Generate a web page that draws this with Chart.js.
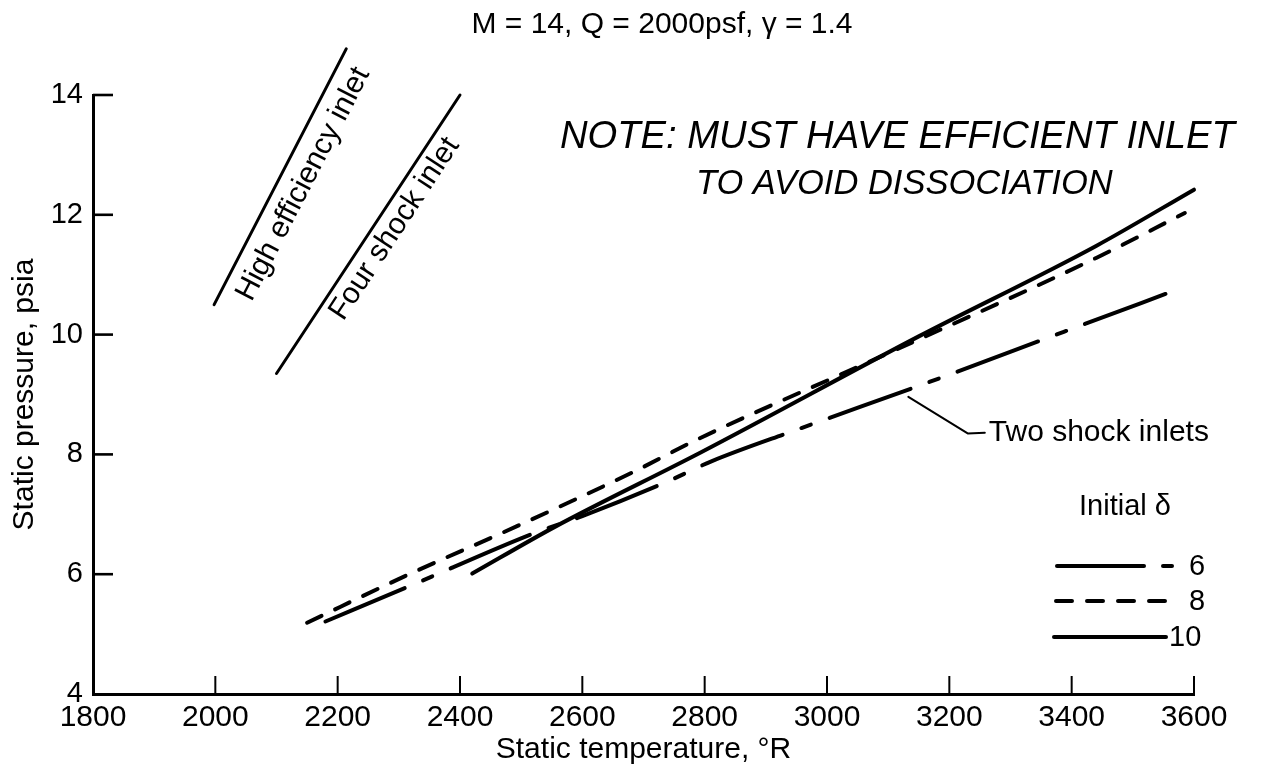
<!DOCTYPE html>
<html>
<head>
<meta charset="utf-8">
<script src="https://cdn.jsdelivr.net/npm/chart.js@4.4.1/dist/chart.umd.min.js"></script>
<style>
  html, body { margin: 0; padding: 0; background: #ffffff; }
  #wrap { width: 1264px; height: 780px; position: relative; }
</style>
</head>
<body>
<div id="wrap"><canvas id="chart"></canvas></div>
<script>
// ---------- data ----------
const xTicks = [1800, 2000, 2200, 2400, 2600, 2800, 3000, 3200, 3400, 3600];
const yTicks = [4, 6, 8, 10, 12, 14];

// Initial delta = 6 (long dash - short dash)
const delta6T = [2180, 2315, 2525, 2600, 2740, 2810, 2950, 3165, 3375, 3580];
const delta6P = [5.21, 5.79, 6.70, 6.97, 7.55, 7.88, 8.41, 9.20, 10.00, 10.78];
// Initial delta = 8 (dashed)
const delta8T = [2150, 2315, 2495, 2680, 2790, 3085, 3440, 3585];
const delta8P = [5.19, 5.99, 6.81, 7.69, 8.26, 9.62, 11.28, 12.03];
// Initial delta = 10 (solid)
const delta10T = [2420, 2555, 2795, 3150, 3440, 3600];
const delta10P = [6.01, 6.79, 8.04, 9.97, 11.48, 12.42];

// annotation reference lines
const highEffT = [1998, 2214];
const highEffP = [10.5, 14.77];
const fourShockT = [2100, 2400];
const fourShockP = [9.35, 14.0];
const leaderT = [3133, 3230, 3258];
const leaderP = [8.96, 8.35, 8.36];

const deltaLabels = ['6', '8', '10'];
const titleText = 'M = 14, Q = 2000psf, \u03B3 = 1.4';
const xTitle = 'Static temperature, \u00B0R';
const yTitle = 'Static pressure, psia';
const noteLines = ['NOTE: MUST HAVE EFFICIENT INLET', 'TO AVOID DISSOCIATION'];
const highEffLabel = 'High efficiency inlet';
const fourShockLabel = 'Four shock inlet';
const twoShockLabel = 'Two shock inlets';
const legendTitle = 'Initial \u03B4';

// ---------- styles ----------
const FONT = '"Liberation Sans", Arial, Helvetica, sans-serif';
const DASH6 = [86, 20, 10, 20];
const DASH8 = [16, 15];
Chart.defaults.font.family = FONT;
Chart.defaults.color = '#000';

const pts = (T, P) => T.map((t, i) => ({ x: t, y: P[i] }));

const curveStyle = {
  borderColor: '#000', borderWidth: 4, pointRadius: 0, fill: false, clip: false,
  borderCapStyle: 'round', borderJoinStyle: 'round', cubicInterpolationMode: 'monotone'
};
const annoStyle = {
  borderColor: '#000', pointRadius: 0, fill: false, clip: false,
  borderCapStyle: 'round', borderJoinStyle: 'round', tension: 0
};

const decor = {
  id: 'decor',
  afterDraw(chart) {
    const { ctx, chartArea: a, scales: { x, y } } = chart;
    ctx.save();
    ctx.strokeStyle = '#000';
    ctx.fillStyle = '#000';
    ctx.setLineDash([]);
    // inward tick marks
    ctx.lineCap = 'butt';
    ctx.lineWidth = 2;
    xTicks.slice(1).forEach(v => {
      const px = x.getPixelForValue(v);
      ctx.beginPath(); ctx.moveTo(px, a.bottom); ctx.lineTo(px, a.bottom - 18); ctx.stroke();
    });
    ctx.lineWidth = 2.6;
    yTicks.slice(1).forEach(v => {
      const py = y.getPixelForValue(v);
      ctx.beginPath(); ctx.moveTo(a.left, py); ctx.lineTo(a.left + 20, py); ctx.stroke();
    });

    // chart title
    ctx.font = '30px ' + FONT;
    ctx.textAlign = 'center';
    ctx.textBaseline = 'middle';
    ctx.fillText(titleText, 662, 25);

    // labels along annotation lines
    const along = (T, P, text, alongOff, perpOff) => {
      const x0 = x.getPixelForValue(T[0]), y0 = y.getPixelForValue(P[0]);
      const x1 = x.getPixelForValue(T[1]), y1 = y.getPixelForValue(P[1]);
      const dx = x1 - x0, dy = y1 - y0, len = Math.hypot(dx, dy);
      const ux = dx / len, uy = dy / len, nx = -uy, ny = ux;
      const cx = (x0 + x1) / 2 + ux * alongOff + nx * perpOff;
      const cy = (y0 + y1) / 2 + uy * alongOff + ny * perpOff;
      ctx.save();
      ctx.translate(cx, cy);
      ctx.rotate(Math.atan2(dy, dx));
      ctx.textAlign = 'center';
      ctx.textBaseline = 'middle';
      ctx.fillText(text, 0, 0);
      ctx.restore();
    };
    ctx.font = '30px ' + FONT;
    along(highEffT, highEffP, highEffLabel, 4, 24);
    along(fourShockT, fourShockP, fourShockLabel, 19, 19);

    // two shock label at end of leader
    const lx = x.getPixelForValue(leaderT[leaderT.length - 1]);
    const ly = y.getPixelForValue(leaderP[leaderP.length - 1]);
    ctx.textAlign = 'left';
    ctx.textBaseline = 'middle';
    ctx.fillText(twoShockLabel, lx + 4, ly);

    // handwritten note
    const fitText = (text, left, cy, width) => {
      ctx.font = 'italic 40px ' + FONT;
      const w = ctx.measureText(text).width;
      const size = 40 * width / w;
      ctx.font = 'italic ' + size.toFixed(1) + 'px ' + FONT;
      ctx.textAlign = 'left';
      ctx.textBaseline = 'middle';
      ctx.fillText(text, left, cy);
    };
    fitText(noteLines[0], 560, 137, 675);
    fitText(noteLines[1], 696, 184, 417);

    // legend "Initial delta"
    ctx.font = '29px ' + FONT;
    ctx.textAlign = 'center';
    ctx.textBaseline = 'middle';
    ctx.fillText(legendTitle, 1125, 507);
    ctx.lineWidth = 4;
    ctx.lineCap = 'round';
    const rows = [566, 601, 637];
    // row 6
    ctx.setLineDash([]);
    ctx.beginPath(); ctx.moveTo(1057, rows[0]); ctx.lineTo(1144, rows[0]); ctx.stroke();
    ctx.beginPath(); ctx.moveTo(1163, rows[0]); ctx.lineTo(1172, rows[0]); ctx.stroke();
    // row 8
    ctx.setLineDash(DASH8);
    ctx.beginPath(); ctx.moveTo(1056, rows[1]); ctx.lineTo(1168, rows[1]); ctx.stroke();
    // row 10
    ctx.setLineDash([]);
    ctx.beginPath(); ctx.moveTo(1054, rows[2]); ctx.lineTo(1166, rows[2]); ctx.stroke();
    ctx.font = '29px ' + FONT;
    ctx.textAlign = 'left';
    ctx.fillText(deltaLabels[0], 1189, rows[0] + 1);
    ctx.fillText(deltaLabels[1], 1189, rows[1] + 1);
    ctx.fillText(deltaLabels[2], 1169, rows[2] + 1);
    ctx.restore();
  }
};

new Chart(document.getElementById('chart'), {
  type: 'line',
  data: {
    datasets: [
      Object.assign({ label: 'Initial \u03B4 = ' + deltaLabels[0], data: pts(delta6T, delta6P), borderDash: DASH6 }, curveStyle),
      Object.assign({ label: 'Initial \u03B4 = ' + deltaLabels[1], data: pts(delta8T, delta8P), borderDash: DASH8 }, curveStyle),
      Object.assign({ label: 'Initial \u03B4 = ' + deltaLabels[2], data: pts(delta10T, delta10P) }, curveStyle),
      Object.assign({ label: highEffLabel, data: pts(highEffT, highEffP), borderWidth: 3 }, annoStyle),
      Object.assign({ label: fourShockLabel, data: pts(fourShockT, fourShockP), borderWidth: 3 }, annoStyle),
      Object.assign({ label: twoShockLabel, data: pts(leaderT, leaderP), borderWidth: 2 }, annoStyle)
    ]
  },
  options: {
    responsive: true,
    maintainAspectRatio: false,
    animation: false,
    devicePixelRatio: 1,
    layout: { padding: { left: 0, top: 95, right: 70, bottom: 0 } },
    plugins: {
      legend: { display: false },
      tooltip: { enabled: false },
      title: { display: false }
    },
    scales: {
      x: {
        type: 'linear', min: xTicks[0], max: xTicks[xTicks.length - 1],
        afterFit(s) { s.height = 86; },
        afterBuildTicks(s) { s.ticks = xTicks.map(v => ({ value: v })); },
        grid: { display: false, drawTicks: false },
        border: { display: true, color: '#000', width: 3 },
        ticks: { color: '#000', font: { size: 30 }, padding: 6, maxRotation: 0, autoSkip: false,
                 callback: v => String(v) },
        title: { display: true, text: xTitle, color: '#000', font: { size: 30 }, padding: { top: 0, bottom: 12 } }
      },
      y: {
        type: 'linear', min: yTicks[0], max: yTicks[yTicks.length - 1],
        afterFit(s) { s.width = 93; },
        afterBuildTicks(s) { s.ticks = yTicks.map(v => ({ value: v })); },
        grid: { display: false, drawTicks: false },
        border: { display: true, color: '#000', width: 3 },
        ticks: { color: '#000', font: { size: 29 }, padding: 10, autoSkip: false,
                 callback: v => String(v) },
        title: { display: true, text: yTitle, color: '#000', font: { size: 30 }, padding: { top: 7, bottom: 0 } }
      }
    }
  },
  plugins: [decor]
});
</script>
</body>
</html>
